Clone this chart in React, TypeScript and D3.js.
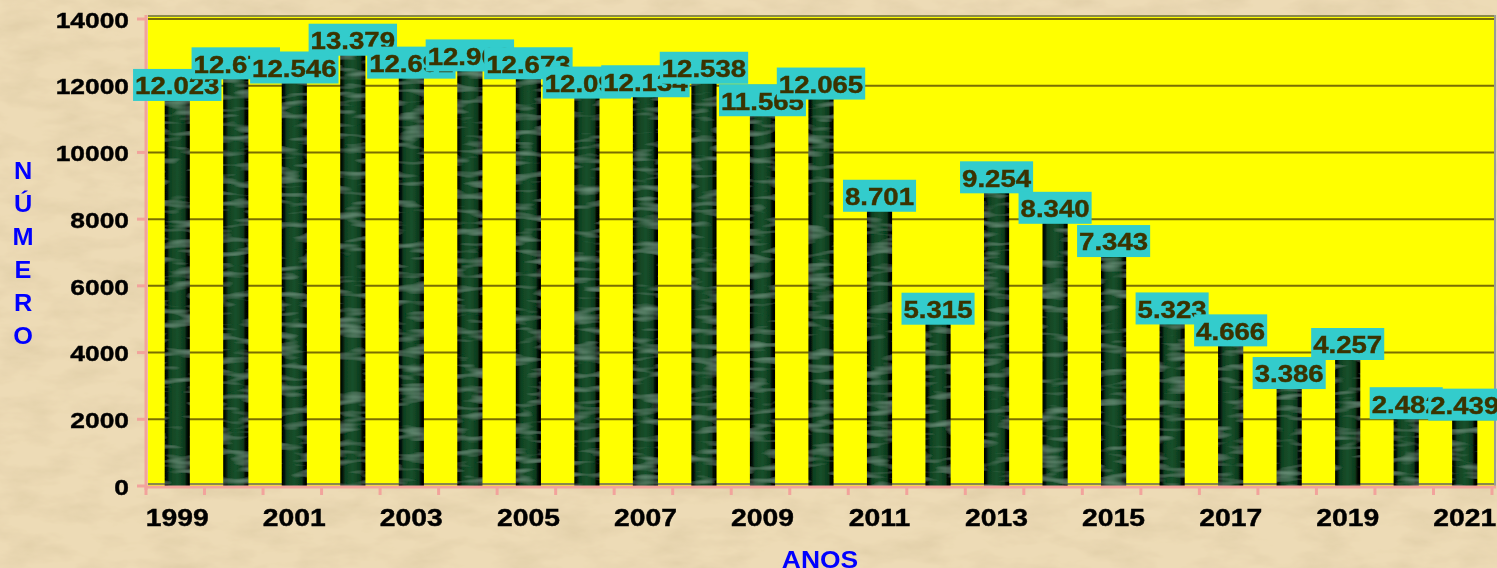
import React from "react";
import * as d3 from "d3";

const YEARS = ["1999","2000","2001","2002","2003","2004","2005","2006","2007","2008","2009","2010","2011","2012","2013","2014","2015","2016","2017","2018","2019","2020","2021"];
const VALUES = [12023, 12671, 12546, 13379, 12692, 12908, 12673, 12094, 12134, 12538, 11565, 12065, 8701, 5315, 9254, 8340, 7343, 5323, 4666, 3386, 4257, 2482, 2439];
const Y_TICKS = [0, 2000, 4000, 6000, 8000, 10000, 12000, 14000];
const X_TICK_LABELS = ["1999","2001","2003","2005","2007","2009","2011","2013","2015","2017","2019","2021"];
const Y_TITLE = ["N", "Ú", "M", "E", "R", "O"];
const X_TITLE = "ANOS";

const W = 1497, H = 568;
const M = { left: 148, right: 1494, top: 19, bottom: 486 };
const DEPTH = 13;
const FONT = "'Liberation Sans', Arial, Helvetica, sans-serif";
const PINK = "#F2A39C";
const OLIVE = "#7A6E00";

const fmt = d3.formatLocale({ decimal: ",", thousands: ".", grouping: [3], currency: ["", ""] }).format(",d");

let ctx: CanvasRenderingContext2D | null = null;
function measure(t: string, font: string) {
  if (!ctx) ctx = document.createElement("canvas").getContext("2d");
  if (!ctx) return t.length * 12;
  ctx.font = font;
  return ctx.measureText(t).width;
}

export default function App() {
  const x = d3.scaleBand<string>().domain(YEARS).range([M.left, M.right]).paddingInner(0.57).paddingOuter(0.285);
  const y = d3.scaleLinear().domain([0, 14000]).range([M.bottom, M.top]);
  const step = x.step();
  const bw = x.bandwidth();
  const LBL_SIZE = 24, LBL_SX = 1.15;

  return (
    <svg width={W} height={H} style={{ position: "fixed", left: 0, top: 0, display: "block" }} fontFamily={FONT}>
      <defs>
        <filter id="paper" x="0" y="0" width="100%" height="100%">
          <feTurbulence type="fractalNoise" baseFrequency="0.02 0.05" numOctaves="4" seed="3" result="n" />
          <feColorMatrix in="n" type="matrix" values="0 0 0 0 0.6  0 0 0 0 0.48  0 0 0 0 0.28  0 0 0 0.7 -0.28" result="c" />
          <feComposite in="c" in2="SourceGraphic" operator="in" result="cc" />
          <feMerge><feMergeNode in="SourceGraphic" /><feMergeNode in="cc" /></feMerge>
        </filter>
        <linearGradient id="barG" x1="0" x2="1" y1="0" y2="0">
          <stop offset="0" stopColor="#000" />
          <stop offset="0.1" stopColor="#04140a" />
          <stop offset="0.2" stopColor="#0f4020" />
          <stop offset="0.5" stopColor="#17502b" />
          <stop offset="0.8" stopColor="#0d3a1c" />
          <stop offset="0.88" stopColor="#030a05" />
          <stop offset="1" stopColor="#000" />
        </linearGradient>
        <filter id="streak" x="0" y="0" width="100%" height="100%">
          <feTurbulence type="fractalNoise" baseFrequency="0.03 0.14" numOctaves="2" seed="7" result="n" />
          <feColorMatrix in="n" type="matrix" values="0 0 0 0 0.35  0 0 0 0 0.6  0 0 0 0 0.45  0 0 0 0.9 -0.45" result="c" />
          <feComposite in="c" in2="SourceGraphic" operator="in" result="cc" />
          <feMerge><feMergeNode in="SourceGraphic" /><feMergeNode in="cc" /></feMerge>
        </filter>
      </defs>

      <rect x={0} y={0} width={W} height={H} fill="#EDDBB6" filter="url(#paper)" />

      {/* plot area */}
      <rect x={M.left} y={M.top - 2} width={M.right - M.left} height={M.bottom - M.top + 2} fill="#FFFF00" />
      {Y_TICKS.filter(t => t > 0).map(t => (
        <line key={"g" + t} x1={M.left} x2={M.right} y1={y(t)} y2={y(t)} stroke={OLIVE} strokeWidth={2} />
      ))}
      <line x1={M.left} x2={M.right} y1={M.top - 3} y2={M.top - 3} stroke="#8a8a4a" strokeWidth={2} />
      <line x1={M.right + 1} x2={M.right + 1} y1={M.top - 4} y2={M.bottom} stroke="#999" strokeWidth={2} />
      <line x1={M.left} x2={M.right} y1={M.bottom - 2} y2={M.bottom - 2} stroke="#8a8a4a" strokeWidth={2} />

      {/* bars */}
      <g filter="url(#streak)">
        {YEARS.map((yr, i) => {
          const top = y(VALUES[i]) + DEPTH;
          return <rect key={"b" + yr} x={x(yr)!} y={top} width={bw} height={M.bottom - top} fill="url(#barG)" />;
        })}
      </g>

      {/* axes */}
      <line x1={M.left - 2} x2={M.left - 2} y1={M.top - 4} y2={M.bottom + 4} stroke={PINK} strokeWidth={3} />
      <line x1={M.left - 2} x2={M.right + 2} y1={M.bottom + 1} y2={M.bottom + 1} stroke={PINK} strokeWidth={3} />
      {Y_TICKS.map(t => (
        <g key={"yt" + t}>
          <line x1={M.left - 11} x2={M.left - 2} y1={y(t)} y2={y(t)} stroke={PINK} strokeWidth={3} />
          <text transform={`translate(${M.left - 19},${y(t) + 1}) scale(1.2,1)`} textAnchor="end" dominantBaseline="central" fontSize={22} fontWeight="bold" fill="#000" stroke="#000" strokeWidth={0.4}>{t}</text>
        </g>
      ))}
      {d3.range(YEARS.length + 1).map(k => (
        <line key={"xt" + k} x1={M.left + k * step - 2} x2={M.left + k * step - 2} y1={M.bottom + 1} y2={M.bottom + 9} stroke={PINK} strokeWidth={3} />
      ))}
      {X_TICK_LABELS.map(yr => (
        <text key={"xl" + yr} transform={`translate(${x(yr)! + bw / 2},${526}) scale(1.18,1)`} textAnchor="middle" fontSize={24} fontWeight="bold" fill="#000" stroke="#000" strokeWidth={0.4}>{yr}</text>
      ))}

      {/* titles */}
      {Y_TITLE.map((ch, i) => (
        <text key={"yt" + i} transform={`translate(23,${171 + i * 33}) scale(1.1,1)`} textAnchor="middle" dominantBaseline="central" fontSize={23} fontWeight="bold" fill="#0000FF">{ch}</text>
      ))}
      <text transform={`translate(820,568) scale(1.15,1)`} textAnchor="middle" fontSize={23} fontWeight="bold" fill="#0000FF">{X_TITLE}</text>

      {/* data labels */}
      {YEARS.map((yr, i) => {
        const s = fmt(VALUES[i]);
        const tw = measure(s, `bold ${LBL_SIZE}px ${FONT}`) * LBL_SX + 4;
        const cx = x(yr)! + bw / 2;
        const cy = y(VALUES[i]);
        return (
          <g key={"l" + yr}>
            <rect x={cx - tw / 2} y={cy - 16} width={tw} height={32} fill="#33CCCC" />
            <text transform={`translate(${cx},${cy + 1}) scale(${LBL_SX},1)`} textAnchor="middle" dominantBaseline="central" fontSize={LBL_SIZE} fontWeight="bold" fill="#3B3300" stroke="#3B3300" strokeWidth={0.4}>{s}</text>
          </g>
        );
      })}
    </svg>
  );
}
